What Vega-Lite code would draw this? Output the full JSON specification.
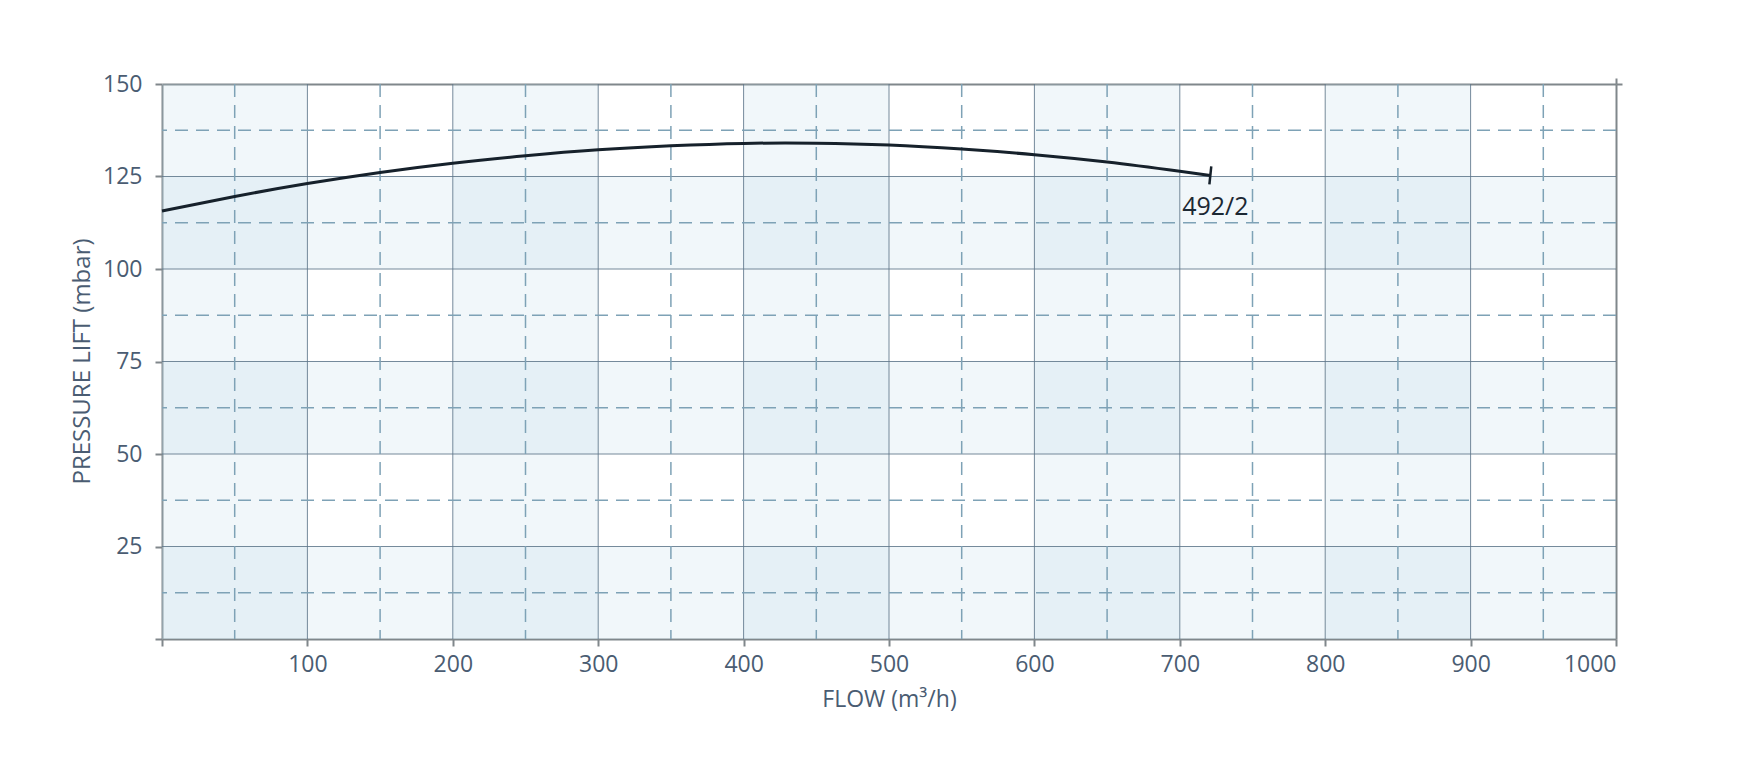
{
  "$schema": "https://vega.github.io/schema/vega-lite/v6.json",
  "width": 1454,
  "height": 555,
  "autosize": {"type": "none"},
  "padding": {"left": 162, "top": 84, "right": 146, "bottom": 131},
  "background": "white",
  "config": {"view": {"stroke": null}, "font": "Open Sans"},
  "datasets": {
    "vbands": [{"x0": 0, "x1": 100}, {"x0": 200, "x1": 300}, {"x0": 400, "x1": 500}, {"x0": 600, "x1": 700}, {"x0": 800, "x1": 900}],
    "hbands": [{"y0": 0, "y1": 25}, {"y0": 50, "y1": 75}, {"y0": 100, "y1": 125}],
    "vgrid": [{"v": 100}, {"v": 200}, {"v": 300}, {"v": 400}, {"v": 500}, {"v": 600}, {"v": 700}, {"v": 800}, {"v": 900}],
    "hgrid": [{"v": 25}, {"v": 50}, {"v": 75}, {"v": 100}, {"v": 125}],
    "vdash": [{"v": 50}, {"v": 150}, {"v": 250}, {"v": 350}, {"v": 450}, {"v": 550}, {"v": 650}, {"v": 750}, {"v": 850}, {"v": 950}],
    "hdash": [{"v": 12.5}, {"v": 37.5}, {"v": 62.5}, {"v": 87.5}, {"v": 112.5}, {"v": 137.5}],
    "curve": [
      {"flow": 0, "lift": 115.7},
      {"flow": 50, "lift": 119.6},
      {"flow": 100, "lift": 123.1},
      {"flow": 150, "lift": 126.1},
      {"flow": 200, "lift": 128.6},
      {"flow": 250, "lift": 130.6},
      {"flow": 300, "lift": 132.2},
      {"flow": 350, "lift": 133.3},
      {"flow": 400, "lift": 133.95},
      {"flow": 450, "lift": 134.0},
      {"flow": 500, "lift": 133.5},
      {"flow": 550, "lift": 132.4},
      {"flow": 600, "lift": 130.9},
      {"flow": 650, "lift": 128.9},
      {"flow": 700, "lift": 126.4},
      {"flow": 721, "lift": 125.3}
    ],
    "end": [{"flow": 721, "lift": 125.3, "label": "492/2"}]
  },
  "layer": [
    {
      "data": {"name": "vbands"},
      "mark": {"type": "rect", "fill": "#b8d5e4", "opacity": 0.2},
      "encoding": {
        "x": {
          "field": "x0", "type": "quantitative",
          "scale": {"domain": [0, 1000], "nice": false, "zero": false},
          "axis": {
            "orient": "bottom",
            "values": [0, 100, 200, 300, 400, 500, 600, 700, 800, 900, 1000],
            "format": "d",
            "labelExpr": "datum.value == 0 ? '' : datum.label",
            "grid": false,
            "domainColor": "#80878b", "domainWidth": 2,
            "tickColor": "#80878b", "tickWidth": 2, "tickSize": 7,
            "labelFont": "Open Sans", "labelFontSize": 23, "labelColor": "#4a5c72",
            "labelBaseline": "alphabetic", "labelPadding": 25,
            "title": "FLOW (m³/h)",
            "titleFont": "Open Sans", "titleFontSize": 23, "titleFontWeight": "normal", "titleColor": "#4a5c72",
            "titleBaseline": "alphabetic", "titleX": 727, "titleY": 67, "titleAlign": "center"
          }
        },
        "x2": {"field": "x1"},
        "y": {
          "datum": 0, "type": "quantitative",
          "scale": {"domain": [0, 150], "nice": false, "zero": false},
          "axis": {
            "orient": "left",
            "values": [0, 25, 50, 75, 100, 125, 150],
            "format": "d",
            "labelExpr": "datum.value == 0 ? '' : datum.label",
            "grid": false,
            "domainColor": "#80878b", "domainWidth": 2,
            "tickColor": "#80878b", "tickWidth": 2, "tickSize": 7,
            "labelFont": "Open Sans", "labelFontSize": 23, "labelColor": "#4a5c72",
            "labelBaseline": "middle", "labelPadding": 13,
            "title": "PRESSURE LIFT (mbar)",
            "titleFont": "Open Sans", "titleFontSize": 24, "titleFontWeight": "normal", "titleColor": "#4a5c72",
            "titleBaseline": "alphabetic", "titleX": -73, "titleY": 277, "titleAlign": "center", "titleAngle": -90
          }
        },
        "y2": {"datum": 150}
      }
    },
    {
      "data": {"name": "hbands"},
      "mark": {"type": "rect", "fill": "#b8d5e4", "opacity": 0.2},
      "encoding": {
        "x": {"datum": 0, "type": "quantitative", "axis": null},
        "x2": {"datum": 1000},
        "y": {"field": "y0", "type": "quantitative", "axis": null},
        "y2": {"field": "y1"}
      }
    },
    {
      "data": {"name": "vgrid"},
      "mark": {"type": "rule", "stroke": "#5e7689", "strokeWidth": 1, "opacity": 0.85},
      "encoding": {"x": {"field": "v", "type": "quantitative", "axis": null}}
    },
    {
      "data": {"name": "hgrid"},
      "mark": {"type": "rule", "stroke": "#5e7689", "strokeWidth": 1, "opacity": 0.85},
      "encoding": {"y": {"field": "v", "type": "quantitative", "axis": null}}
    },
    {
      "data": {"name": "vdash"},
      "mark": {"type": "rule", "stroke": "#7ea2b6", "strokeWidth": 1.5, "strokeDash": [13, 8]},
      "encoding": {"x": {"field": "v", "type": "quantitative", "axis": null}}
    },
    {
      "data": {"name": "hdash"},
      "mark": {"type": "rule", "stroke": "#7ea2b6", "strokeWidth": 1.5, "strokeDash": [13, 8]},
      "encoding": {"y": {"field": "v", "type": "quantitative", "axis": null}}
    },
    {
      "data": {"name": "curve"},
      "mark": {"type": "line", "stroke": "#16212b", "strokeWidth": 3, "interpolate": "natural"},
      "encoding": {
        "x": {
          "field": "flow", "type": "quantitative",
          "axis": {"orient": "top", "values": [1000], "labels": false, "grid": false, "title": null,
                   "domainColor": "#80878b", "domainWidth": 2, "tickColor": "#80878b", "tickWidth": 2, "tickSize": 6}
        },
        "y": {
          "field": "lift", "type": "quantitative",
          "axis": {"orient": "right", "values": [150], "labels": false, "grid": false, "title": null,
                   "domainColor": "#80878b", "domainWidth": 2, "tickColor": "#80878b", "tickWidth": 2, "tickSize": 6}
        }
      }
    },
    {
      "data": {"name": "end"},
      "mark": {"type": "point", "shape": "M0,-1L0,1", "size": 324, "angle": 6, "stroke": "#16212b", "strokeWidth": 2.5, "filled": false, "opacity": 1},
      "encoding": {
        "x": {"field": "flow", "type": "quantitative", "axis": null},
        "y": {"field": "lift", "type": "quantitative", "axis": null}
      }
    },
    {
      "data": {"name": "end"},
      "mark": {"type": "text", "font": "Open Sans", "fontSize": 25, "color": "#1c2833", "baseline": "alphabetic", "align": "center", "dx": 5, "dy": 40},
      "encoding": {
        "x": {"field": "flow", "type": "quantitative", "axis": null},
        "y": {"field": "lift", "type": "quantitative", "axis": null},
        "text": {"field": "label"}
      }
    }
  ],
  "resolve": {"axis": {"x": "independent", "y": "independent"}}
}
